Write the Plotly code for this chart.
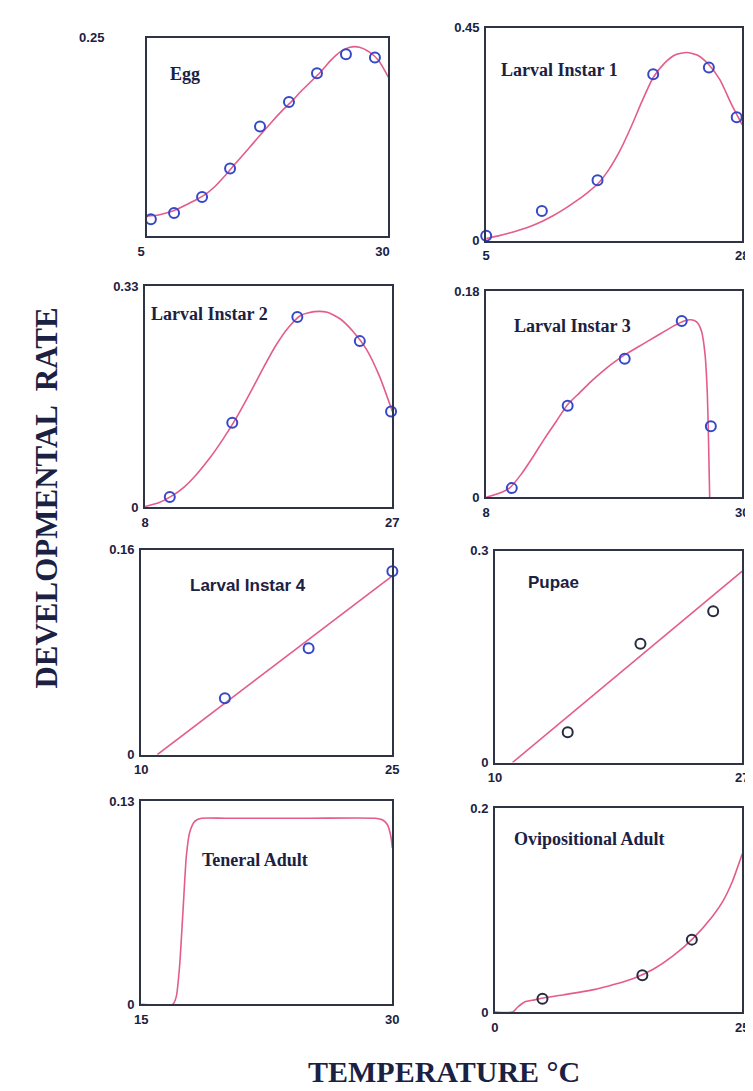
import plotly.graph_objects as go

W, H = 753, 1091

# ---- observed points ----
egg_x = [5.4, 7.8, 10.7, 13.6, 16.7, 19.7, 22.6, 25.6, 28.6]
egg_y = [0.021, 0.029, 0.049, 0.085, 0.138, 0.169, 0.205, 0.229, 0.225]
l1_x = [5, 10, 15, 20, 25, 27.5]
l1_y = [0.011, 0.063, 0.128, 0.352, 0.366, 0.261]
l2_x = [9.9, 14.7, 19.7, 24.5, 26.9]
l2_y = [0.015, 0.126, 0.284, 0.248, 0.143]
l3_x = [10.2, 15, 19.9, 24.8, 27.3]
l3_y = [0.008, 0.080, 0.121, 0.154, 0.062]
l4_x = [15, 20, 25]
l4_y = [0.044, 0.083, 0.143]
pupae_x = [15, 20, 25]
pupae_y = [0.043, 0.168, 0.214]
ovi_x = [4.8, 14.9, 19.9]
ovi_y = [0.013, 0.036, 0.071]

# ---- fitted curves ----
egg_fit_x = [5, 6, 7, 8, 9, 10, 11, 12, 13, 14, 15, 16, 17, 18, 19, 20, 21, 22, 23, 24, 25, 26, 27, 28, 29, 30]
egg_fit_y = [0.025, 0.026, 0.029, 0.033, 0.039, 0.045, 0.052, 0.062, 0.075, 0.089, 0.103, 0.117, 0.131,
             0.145, 0.158, 0.170, 0.183, 0.195, 0.207, 0.221, 0.232, 0.238, 0.238, 0.232, 0.221, 0.200]
l1_fit_x = [5, 6, 7, 8, 9, 10, 11, 12, 13, 14, 15, 16, 17, 18, 19, 20, 21, 22, 23, 24, 25, 26, 27, 28]
l1_fit_y = [0.005, 0.010, 0.016, 0.023, 0.031, 0.041, 0.053, 0.067, 0.083, 0.100, 0.120, 0.150, 0.190,
            0.240, 0.295, 0.345, 0.375, 0.393, 0.398, 0.392, 0.372, 0.340, 0.290, 0.245]
l2_fit_x = [8, 9, 10, 11, 12, 13, 14, 15, 16, 17, 18, 19, 20, 21, 22, 23, 24, 25, 26, 27]
l2_fit_y = [0.001, 0.006, 0.016, 0.030, 0.050, 0.074, 0.102, 0.133, 0.168, 0.205, 0.240, 0.268, 0.287,
            0.292, 0.291, 0.281, 0.262, 0.236, 0.196, 0.143]
l3_fit_x = [8, 9, 10, 11, 12, 13, 14, 15, 16, 17, 18, 19, 20, 21, 22, 23, 24, 25, 25.6, 26.1, 26.5,
            26.8, 27.0, 27.1, 27.2]
l3_fit_y = [0.0, 0.003, 0.008, 0.020, 0.035, 0.051, 0.066, 0.081, 0.091, 0.101, 0.110, 0.118, 0.125,
            0.131, 0.137, 0.143, 0.149, 0.154, 0.155, 0.153, 0.145, 0.125, 0.090, 0.050, 0.0]
l4_fit_x = [10.96, 25]
l4_fit_y = [0.0, 0.1395]
pupae_fit_x = [11.2, 27]
pupae_fit_y = [0.0, 0.271]
ten_fit_x = [15, 16.9, 17.1, 17.3, 17.5, 17.7, 17.9, 18.2, 18.6, 20, 25, 29, 29.4, 29.7, 29.9, 30]
ten_fit_y = [0.0, 0.0, 0.005, 0.025, 0.060, 0.095, 0.110, 0.117, 0.119, 0.119, 0.119, 0.119, 0.118,
             0.115, 0.108, 0.100]
ovi_fit_x = [0, 1.8, 2.3, 3, 4, 5, 7, 10, 12, 14, 16, 18, 20, 22, 23, 24, 25]
ovi_fit_y = [0.0, 0.0, 0.005, 0.010, 0.012, 0.014, 0.017, 0.022, 0.027, 0.033, 0.042, 0.055, 0.072,
             0.094, 0.108, 0.128, 0.155]

# ---- panels: name, points, fit, x range, y range, y tick values ----
panels = [
    ("Egg", egg_x, egg_y, egg_fit_x, egg_fit_y, [5, 30], [0, 0.25], [0.25], ["0.25"]),
    ("Larval Instar 1", l1_x, l1_y, l1_fit_x, l1_fit_y, [5, 28], [0, 0.45], [0, 0.45], ["0", "0.45"]),
    ("Larval Instar 2", l2_x, l2_y, l2_fit_x, l2_fit_y, [8, 27], [0, 0.33], [0, 0.33], ["0", "0.33"]),
    ("Larval Instar 3", l3_x, l3_y, l3_fit_x, l3_fit_y, [8, 30], [0, 0.18], [0, 0.18], ["0", "0.18"]),
    ("Larval Instar 4", l4_x, l4_y, l4_fit_x, l4_fit_y, [10, 25], [0, 0.16], [0, 0.16], ["0", "0.16"]),
    ("Pupae", pupae_x, pupae_y, pupae_fit_x, pupae_fit_y, [10, 27], [0, 0.3], [0, 0.3], ["0", "0.3"]),
    ("Teneral Adult", [], [], ten_fit_x, ten_fit_y, [15, 30], [0, 0.13], [0, 0.13], ["0", "0.13"]),
    ("Ovipositional Adult", ovi_x, ovi_y, ovi_fit_x, ovi_fit_y, [0, 25], [0, 0.2], [0, 0.2], ["0", "0.2"]),
]

# pixel boxes (left, right, top, bottom) and label placement
boxes = [(132, 379, 23, 224), (479, 741, 13, 229),
         (130, 383, 275, 499), (479, 741, 280, 489),
         (126, 383, 542, 750), (488, 741, 543, 758),
         (126, 383, 797, 1003), (488, 741, 804, 1011)]
label_pos = [(153, 60), (492, 56), (134, 303), (505, 315),
             (174, 578), (520, 575), (186, 857), (505, 835)]
marker_cols = ["#3548c8"] * 5 + ["#262b40", "#262b40", "#262b40"]
label_fonts = ["Liberation Serif"] * 4 + ["Liberation Sans", "Liberation Sans"] + ["Liberation Serif"] * 2
label_sizes = [18, 18, 18, 18, 17, 17, 18, 18]

FRAME = "#2e3346"
CURVE = "#e45c8a"
TEXT = "#1b2142"

fig = go.Figure()
layout = {}
annotations = []

for i, (name, px_, py_, fx, fy, xr, yr, yt, ytt) in enumerate(panels):
    n = i + 1
    sfx = "" if n == 1 else str(n)
    l, r, t, b = boxes[i]
    fig.add_trace(go.Scatter(x=fx, y=fy, mode="lines", xaxis="x" + sfx, yaxis="y" + sfx,
                             line=dict(color=CURVE, width=1.6, shape="spline", smoothing=0.6),
                             showlegend=False, hoverinfo="skip"))
    if px_:
        fig.add_trace(go.Scatter(x=px_, y=py_, mode="markers", xaxis="x" + sfx, yaxis="y" + sfx,
                                 marker=dict(symbol="circle-open", size=10, color=marker_cols[i],
                                             line=dict(width=2)),
                                 cliponaxis=False, showlegend=False))
    layout["xaxis" + sfx] = dict(
        domain=[l / W, r / W], range=xr, anchor="y" + sfx,
        showline=True, mirror=True, linecolor=FRAME, linewidth=2,
        showgrid=False, zeroline=False, ticks="",
        tickvals=xr, ticktext=[str(v) for v in xr],
        ticklabelstandoff=2, ticklabelshift=-6 if i == 0 else 0,
        tickfont=dict(family="Liberation Sans", size=13, color=TEXT, weight="bold"),
    )
    layout["yaxis" + sfx] = dict(
        domain=[1 - b / H, 1 - t / H], range=yr, anchor="x" + sfx,
        showline=True, mirror=True, linecolor=FRAME, linewidth=2,
        showgrid=False, zeroline=False, ticks="",
        tickvals=yt, ticktext=ytt,
        ticklabelstandoff=38 if i == 0 else 2,
        tickfont=dict(family="Liberation Sans", size=13, color=TEXT, weight="bold"),
    )
    lx, ly = label_pos[i]
    annotations.append(dict(text="<b>%s</b>" % name, x=lx / W, y=1 - ly / H, xref="paper", yref="paper",
                            xanchor="left", yanchor="middle", showarrow=False,
                            font=dict(family=label_fonts[i], size=label_sizes[i], color=TEXT)))

annotations.append(dict(text="<b>DEVELOPMENTAL  RATE</b>", x=29 / W, y=1 - 490 / H, xref="paper",
                        yref="paper", textangle=-90, showarrow=False, xanchor="center", yanchor="middle",
                        font=dict(family="Liberation Serif", size=31, color=TEXT)))
annotations.append(dict(text="<b>TEMPERATURE °C</b>", x=436 / W, y=1 - 1071 / H, xref="paper",
                        yref="paper", showarrow=False, xanchor="center", yanchor="middle",
                        font=dict(family="Liberation Serif", size=30, color=TEXT)))

fig.update_layout(**layout)
fig.update_layout(width=W, height=H, margin=dict(l=0, r=0, t=0, b=0),
                  paper_bgcolor="white", plot_bgcolor="white", annotations=annotations)

fig.write_html("out.html")
